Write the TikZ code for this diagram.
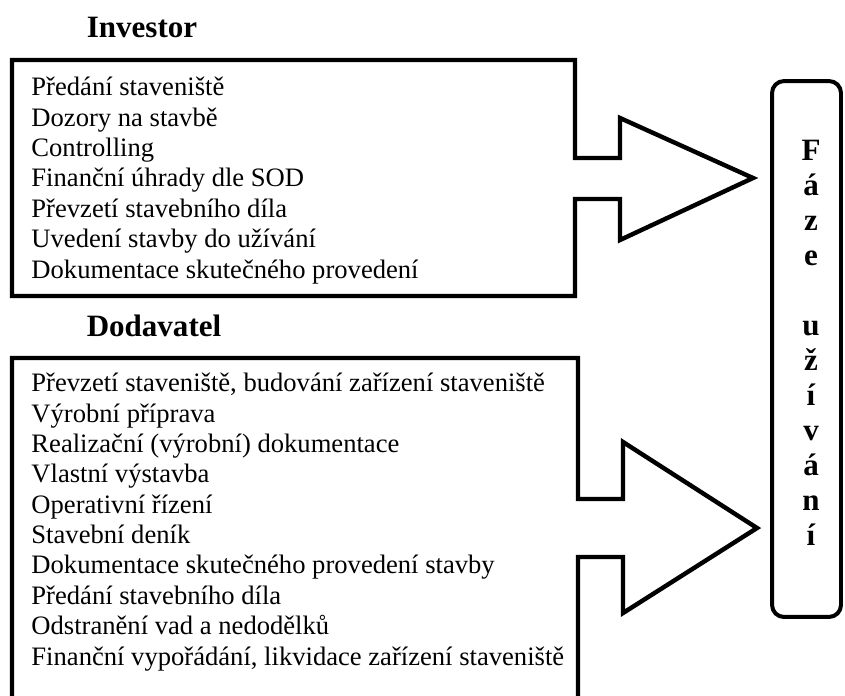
\documentclass[tikz,border=0pt]{standalone}
\usepackage{fontspec}
\setmainfont{Liberation Serif}
\tikzset{
  frm/.style={draw, line width=2pt, line join=miter},
  itm/.style={anchor=base west, align=left, inner sep=0pt,
              font=\fontsize{12}{13.7}\selectfont},
  hdr/.style={anchor=base, inner sep=0pt, font=\fontsize{14}{16}\selectfont\bfseries},
  fazbox/.style={draw, line width=1.8pt, rounded corners=5.4pt,
              minimum width=31.1pt, minimum height=241.7pt, inner sep=0pt},
  vtxt/.style={align=center, inner sep=0pt,
              font=\fontsize{14}{15.8}\selectfont\bfseries},
}

\begin{document}
\begin{tikzpicture}[x=0.451pt, y=-0.451pt]
    \useasboundingbox (0,0) rectangle (845,695);

    % investor
    \node[hdr] (inv) at (142,37) {Investor};
    \draw[frm] (12,60) -- (575,60) -- (575,158) -- (620,158) -- (620,118)
      -- (753,178) -- (620,240) -- (620,199) -- (575,199) -- (575,296)
      -- (12,296) -- cycle;
    \node[itm] (invlist) at (31,278)
         {Předání staveniště\\ Dozory na stavbě\\ Controlling\\
          Finanční úhrady dle SOD\\ Převzetí stavebního díla\\
          Uvedení stavby do užívání\\ Dokumentace skutečného provedení};

    % dodavatel
    \node[hdr] (dod) at (154,336) {Dodavatel};
    \draw[frm] (12,700) -- (12,358) -- (578,358) -- (578,499) -- (623,499)
      -- (623,442) -- (757,528) -- (623,613) -- (623,557) -- (578,557)
      -- (578,700);
    \node[itm] (dodlist) at (31,665)
         {Převzetí staveniště, budování zařízení staveniště\\
          Výrobní příprava\\ Realizační (výrobní) dokumentace\\
          Vlastní výstavba\\ Operativní řízení\\ Stavební deník\\
          Dokumentace skutečného provedení stavby\\
          Předání stavebního díla\\ Odstranění vad a nedodělků\\
          Finanční vypořádání, likvidace zařízení staveniště};

    % faze uzivani
    \node[fazbox] (faze) at (806.5,349) {};
    \node[vtxt] (fazetxt) at (811,343)
         {F\\ á\\ z\\ e\\[15.8pt] u\\ ž\\ í\\ v\\ á\\ n\\ í};
  \end{tikzpicture}
\end{document}
